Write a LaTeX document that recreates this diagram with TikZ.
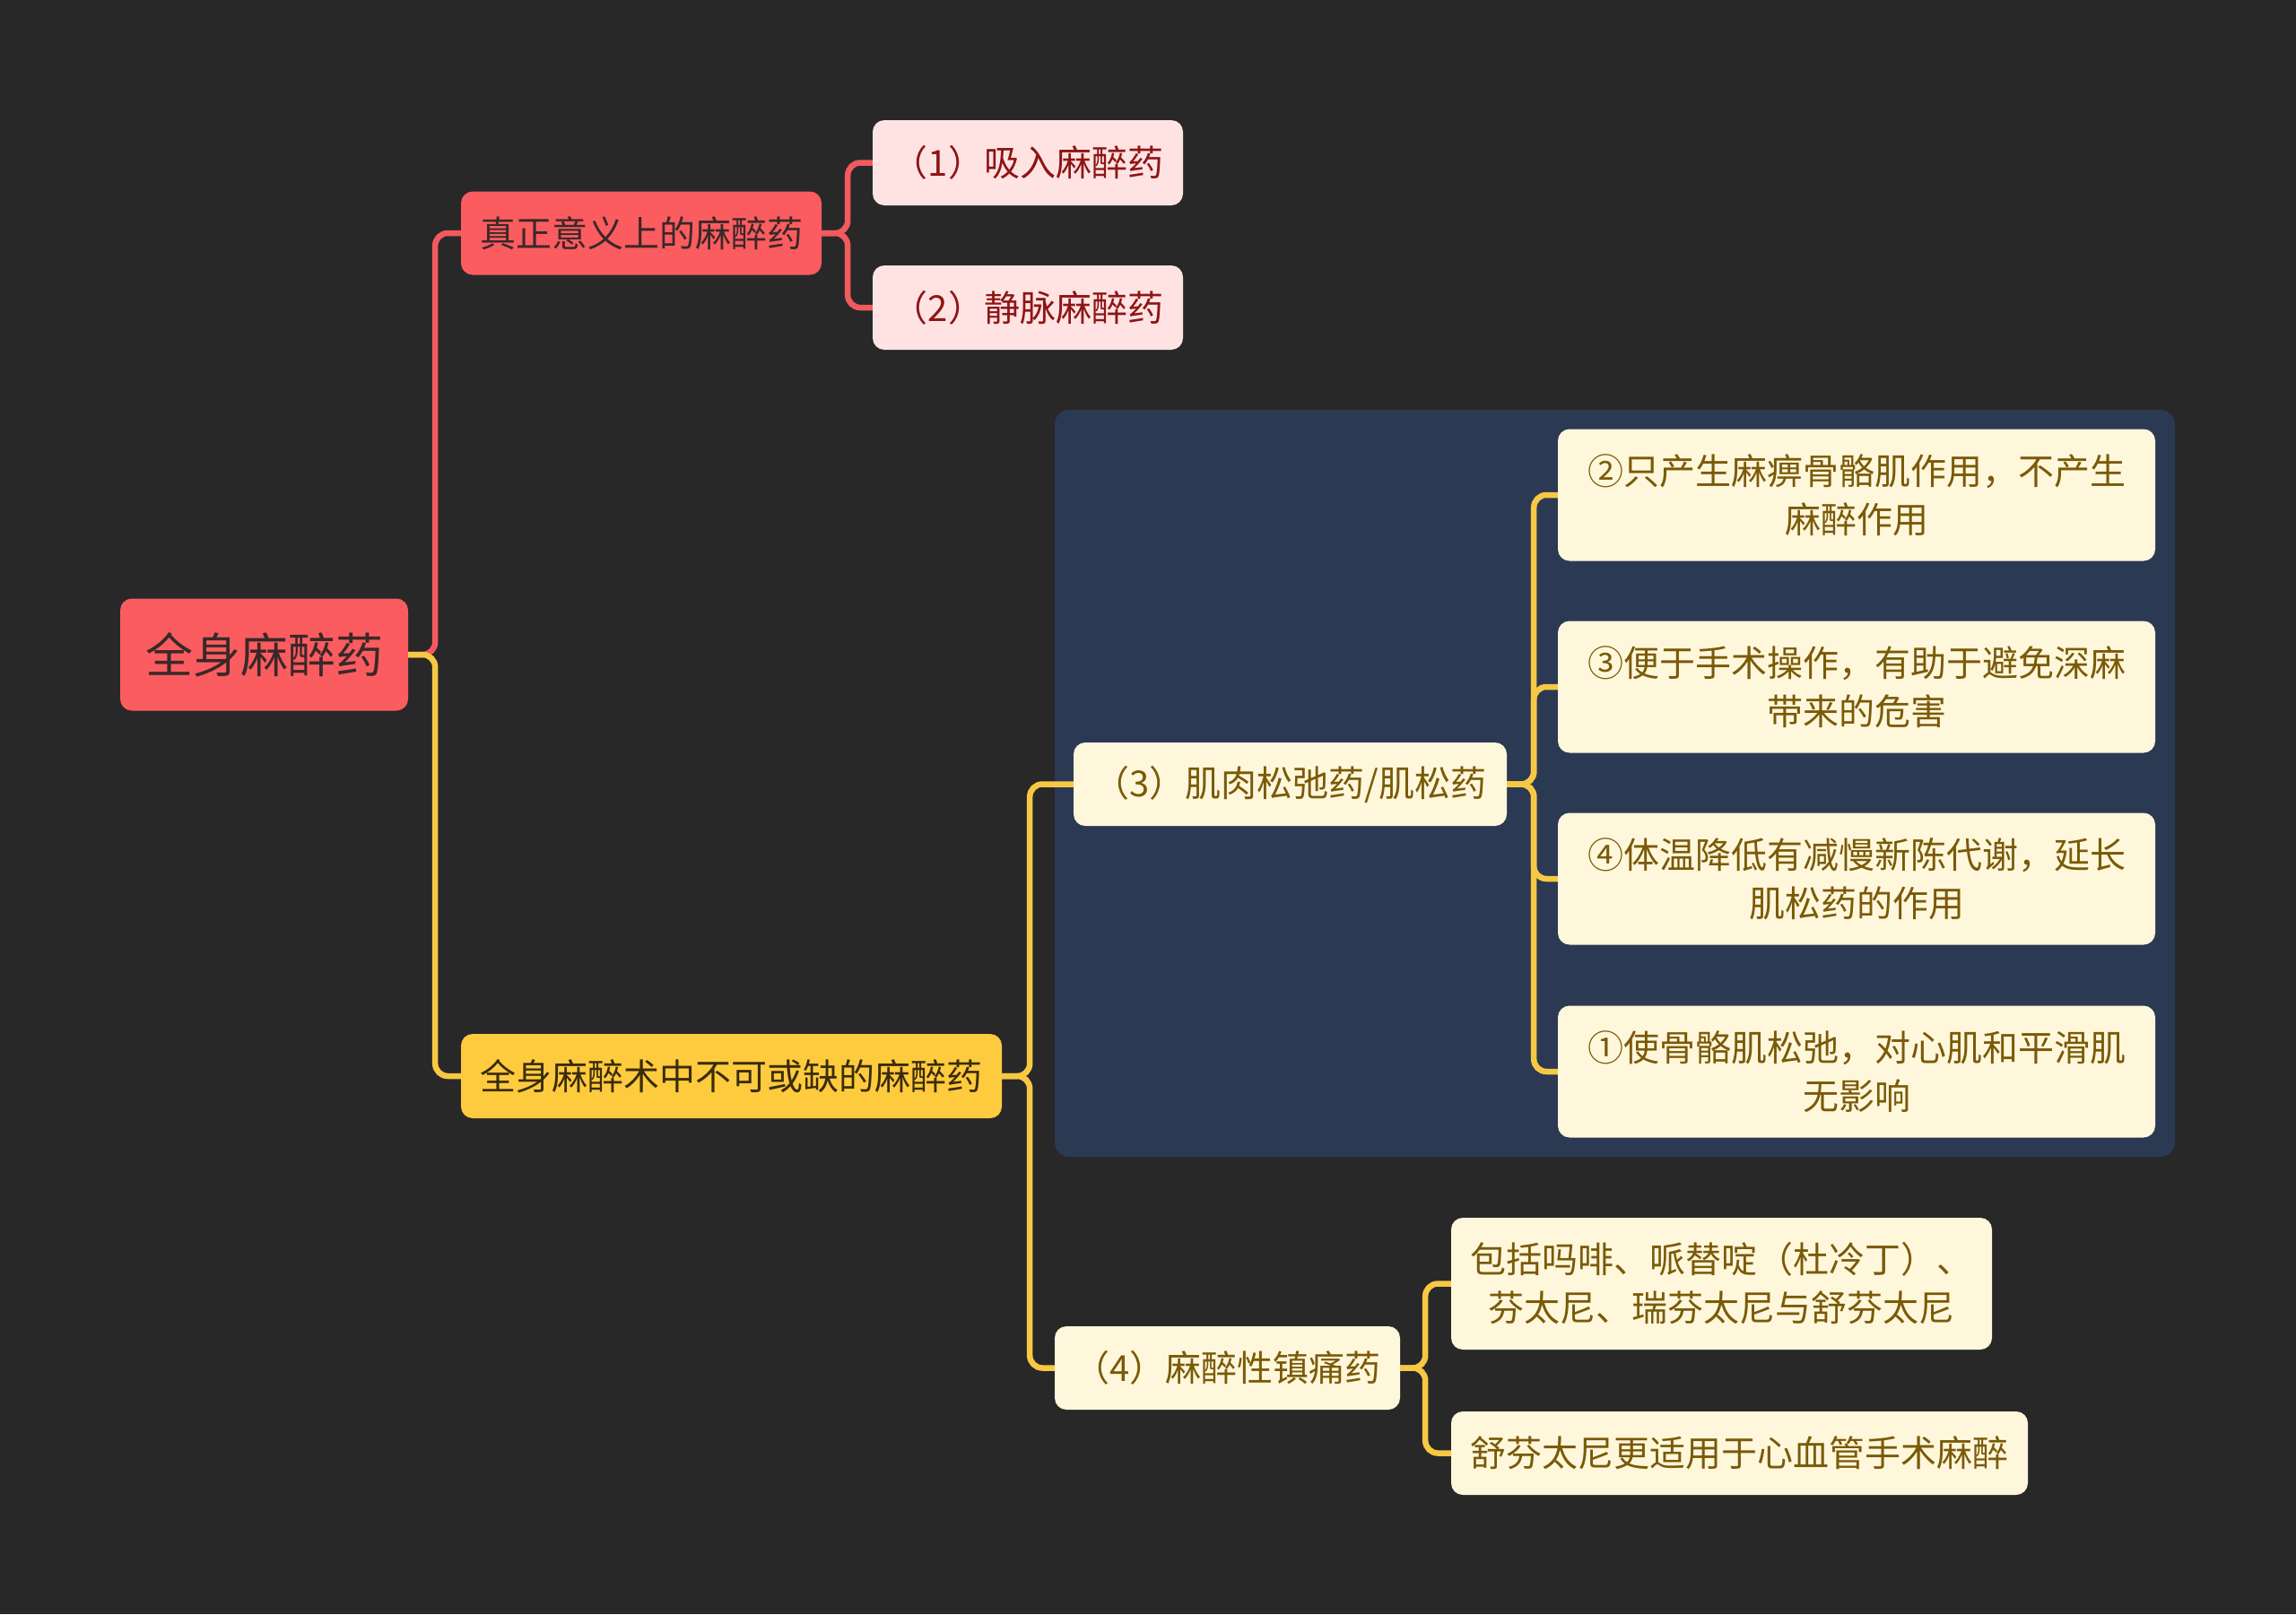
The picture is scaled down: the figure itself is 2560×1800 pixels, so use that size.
\documentclass[tikz,border=0pt]{standalone}
\usepackage{fontspec}
\setmainfont{Noto Sans CJK SC}
\definecolor{bg}{HTML}{282828}
\definecolor{rootred}{HTML}{FA5C60}
\definecolor{pinkbox}{HTML}{FFE3E3}
\definecolor{pinktext}{HTML}{8E1515}
\definecolor{darktext}{HTML}{3A2828}
\definecolor{yellowbox}{HTML}{FFCB3E}
\definecolor{yellowtext}{HTML}{3A2C0A}
\definecolor{cream}{HTML}{FFF7DB}
\definecolor{creamtext}{HTML}{7A5A08}
\definecolor{bluebox}{HTML}{2B3953}
\definecolor{redline}{HTML}{F25A5E}
\definecolor{yelline}{HTML}{F7C843}
\begin{document}
\begin{tikzpicture}[x=1pt,y=-1pt,
  box/.style={rounded corners=13pt,inner sep=0pt,align=center,
    font=\fontsize{40}{54}\selectfont},
  rootbox/.style={box,fill=rootred,text=darktext,font=\fontsize{53}{60}\selectfont},
  redbox/.style={box,fill=rootred,text=darktext},
  pinkb/.style={box,fill=pinkbox,text=pinktext},
  yelbox/.style={box,fill=yellowbox,text=yellowtext},
  creambox/.style={box,fill=cream,text=creamtext},
  rline/.style={draw=redline,line width=6.5pt,rounded corners=14pt},
  yline/.style={draw=yelline,line width=6.5pt,rounded corners=14pt}]
\useasboundingbox (0,0) rectangle (2560,1800);
\fill[bg] (0,0) rectangle (2560,1800);
\fill[bluebox,rounded corners=16pt] (1176,457) rectangle (2425,1290);

\node[rootbox,minimum width=321pt,minimum height=125pt] (root) at (294.5,730) {全身麻醉药};
\node[redbox,minimum width=402pt,minimum height=93pt] (t1) at (715,260) {真正意义上的麻醉药};
\node[pinkb,minimum width=346pt,minimum height=95pt] (p1) at (1146,181.5) {（1）吸入麻醉药};
\node[pinkb,minimum width=346pt,minimum height=94pt] (p2) at (1146,343) {（2）静脉麻醉药};
\node[yelbox,minimum width=603pt,minimum height=94pt] (t2) at (815.5,1200) {全身麻醉术中不可或缺的麻醉药};
\node[creambox,minimum width=483pt,minimum height=93pt] (m3) at (1438.5,874.5) {（3）肌肉松弛药/肌松药};
\node[creambox,minimum width=666pt,minimum height=147pt] (r2) at (2070,552) {②只产生麻痹骨骼肌作用，不产生\\麻醉作用};
\node[creambox,minimum width=666pt,minimum height=147pt] (r3) at (2070,766) {③便于手术操作，有助于避免深麻\\带来的危害};
\node[creambox,minimum width=666pt,minimum height=147pt] (r4) at (2070,980) {④体温降低有减慢新陈代谢，延长\\肌松药的作用};
\node[creambox,minimum width=666pt,minimum height=147pt] (r1) at (2070,1195) {①使骨骼肌松弛，对心肌和平滑肌\\无影响};
\node[creambox,minimum width=385pt,minimum height=93pt] (m4) at (1368.5,1525.5) {（4）麻醉性镇痛药};
\node[creambox,minimum width=603pt,minimum height=147pt] (a1) at (1919.5,1431.5) {包括吗啡、哌替啶（杜冷丁）、\\芬太尼、瑞芬太尼与舒芬太尼};
\node[creambox,minimum width=643pt,minimum height=93pt] (a2) at (1939.5,1620.5) {舒芬太尼更适用于心血管手术麻醉};

\draw[rline] (root.east) -- ++(30,0) |- (t1.west);
\draw[yline] (root.east) -- ++(30,0) |- (t2.west);
\draw[rline] (t1.east) -- ++(29,0) |- (p1.west);
\draw[rline] (t1.east) -- ++(29,0) |- (p2.west);
\draw[yline] (t2.east) -- ++(31,0) |- (m3.west);
\draw[yline] (t2.east) -- ++(31,0) |- (m4.west);
\draw[yline] (m3.east) -- ++(30,0) |- (r2.west);
\draw[yline] (m3.east) -- ++(30,0) |- (r3.west);
\draw[yline] (m3.east) -- ++(30,0) |- (r4.west);
\draw[yline] (m3.east) -- ++(30,0) |- (r1.west);
\draw[yline] (m4.east) -- ++(28,0) |- (a1.west);
\draw[yline] (m4.east) -- ++(28,0) |- (a2.west);
\end{tikzpicture}
\end{document}
